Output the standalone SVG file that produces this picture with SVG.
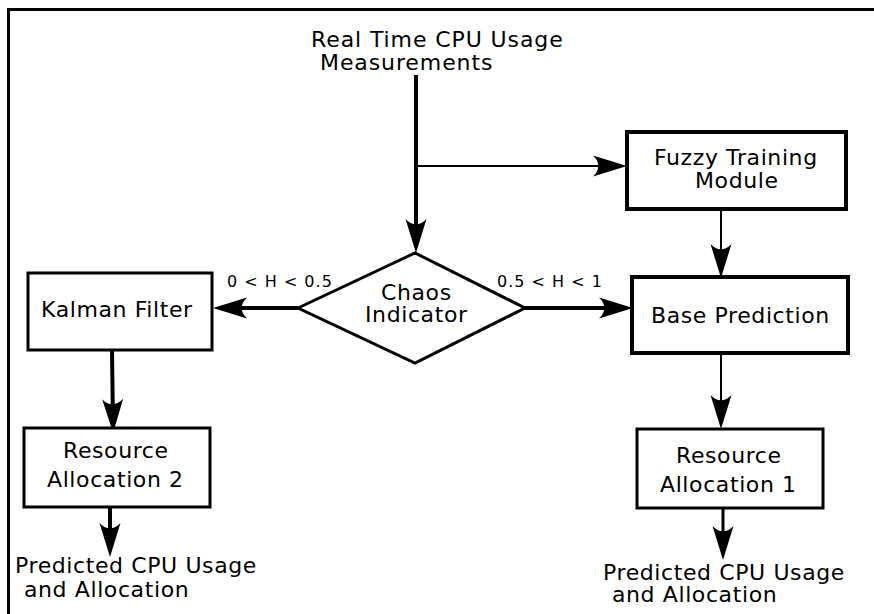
<svg xmlns="http://www.w3.org/2000/svg" width="874" height="614" viewBox="0 0 874 614">
<defs>
<style>
text{font-family:"DejaVu Sans","Liberation Sans",sans-serif;fill:#000}
.t{font-size:22px;letter-spacing:0.6px}
.h{font-size:22px;letter-spacing:0.9px}
.s{font-size:16px;letter-spacing:1px}
.box{fill:#fff;stroke:#000}
line{fill:none;stroke:#000;stroke-linecap:butt}
</style>
<marker id="ah" markerUnits="userSpaceOnUse" orient="auto" markerWidth="40" markerHeight="24" viewBox="-36 -12 38 24" refX="-8" refY="0" overflow="visible">
<path d="M0,0 L-34,-10.5 C-27,-4 -27,4 -34,10.5 Z" fill="#000"/>
</marker>
</defs>
<rect width="874" height="614" fill="#fff"/>
<path d="M8.5,614 V9.5 H874" fill="none" stroke="#000" stroke-width="3"/>

<g id="connectors">
<line x1="416" y1="75" x2="416" y2="245" stroke-width="4" marker-end="url(#ah)"/>
<line x1="416" y1="166" x2="619" y2="166" stroke-width="2" marker-end="url(#ah)"/>
<line x1="298" y1="308" x2="221" y2="308" stroke-width="4" marker-end="url(#ah)"/>
<line x1="525" y1="308" x2="625" y2="308" stroke-width="4" marker-end="url(#ah)"/>
<line x1="721" y1="209" x2="721" y2="270" stroke-width="2" marker-end="url(#ah)"/>
<line x1="721" y1="353" x2="721" y2="421" stroke-width="2" marker-end="url(#ah)"/>
<line x1="112" y1="350" x2="113" y2="425" stroke-width="4" marker-end="url(#ah)"/>
<line x1="110" y1="507" x2="110" y2="549" stroke-width="4" marker-end="url(#ah)"/>
<line x1="723" y1="508" x2="723" y2="552" stroke-width="3" marker-end="url(#ah)"/>
</g>

<g id="input">
<text class="h" x="311" y="47">Real Time CPU Usage</text>
<text class="h" x="320" y="70">Measurements</text>
</g>

<g id="fuzzy">
<rect class="box" x="627" y="132" width="219" height="77" stroke-width="4"/>
<text class="t" x="654" y="165">Fuzzy Training</text>
<text class="t" x="695" y="188">Module</text>
</g>

<g id="chaos">
<path class="box" d="M298,308 L415,253 L525,308 L415,363 Z" stroke-width="3"/>
<text class="t" x="381" y="300">Chaos</text>
<text class="t" x="365" y="322">Indicator</text>
</g>

<g id="label-left">
<text class="s" x="227" y="287">0 &lt; H &lt; 0.5</text>
</g>
<g id="label-right">
<text class="s" x="497" y="287">0.5 &lt; H &lt; 1</text>
</g>

<g id="kalman">
<rect class="box" x="28" y="273" width="184" height="77" stroke-width="3"/>
<text class="t" x="41" y="317">Kalman Filter</text>
</g>

<g id="base">
<rect class="box" x="632" y="277" width="216" height="76" stroke-width="4"/>
<text class="t" x="651" y="323">Base Prediction</text>
</g>

<g id="ra2">
<rect class="box" x="24" y="428" width="186" height="79" stroke-width="3"/>
<text class="t" x="63" y="458">Resource</text>
<text class="t" x="47" y="487">Allocation 2</text>
</g>

<g id="ra1">
<rect class="box" x="637" y="429" width="186" height="79" stroke-width="3"/>
<text class="t" x="676" y="463">Resource</text>
<text class="t" x="660" y="492">Allocation 1</text>
</g>

<g id="out2">
<text class="t" x="15" y="573">Predicted CPU Usage</text>
<text class="t" x="24" y="597">and Allocation</text>
</g>

<g id="out1">
<text class="t" x="603" y="580">Predicted CPU Usage</text>
<text class="t" x="612" y="602">and Allocation</text>
</g>
</svg>
